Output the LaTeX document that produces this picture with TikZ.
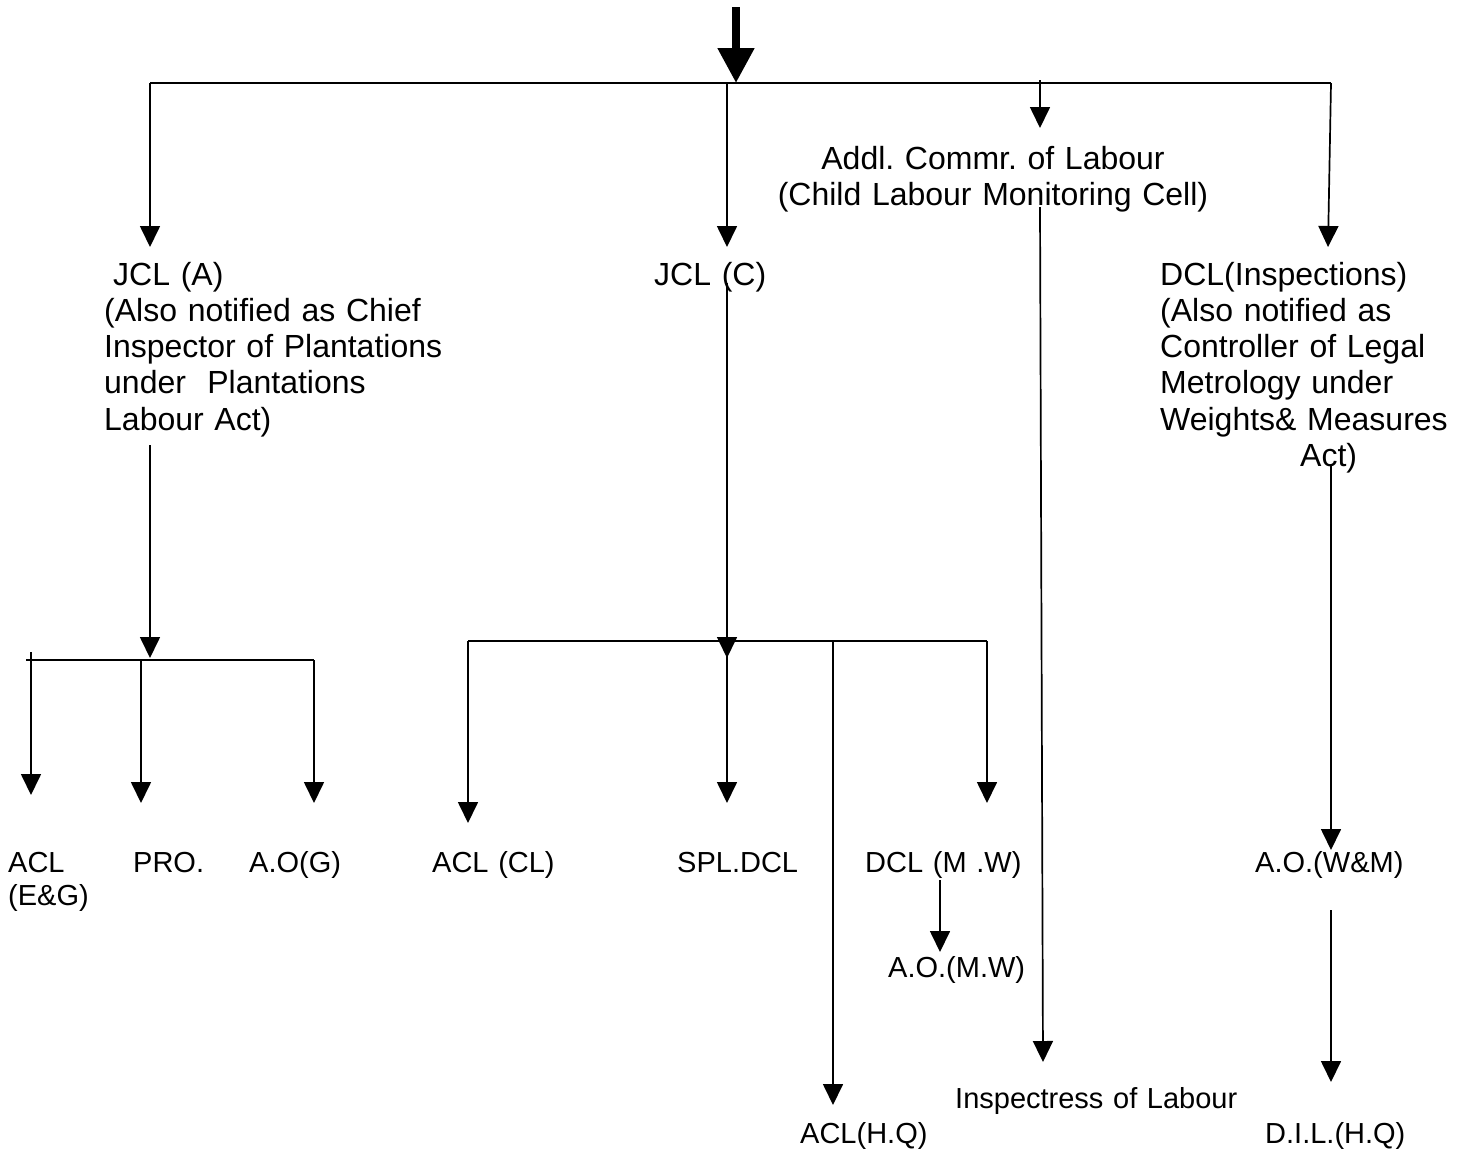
\documentclass[tikz,border=0pt]{standalone}
\usepackage{fontspec}
\setmainfont{Liberation Sans}
\usetikzlibrary{arrows.meta}
\frenchspacing
\begin{document}
\begin{tikzpicture}[x=1pt,y=-1pt,
  conn/.style={line width=1.7pt,-{Triangle[width=20pt,length=21pt]}},
  bus/.style={line width=1.7pt},
  big/.style={font=\fontsize{32}{36.3}\selectfont\frenchspacing, inner sep=0pt, anchor=base west, text width=#1, align=left},
  big/.default=400pt,
  small/.style={font=\fontsize{29}{33}\selectfont\frenchspacing, inner sep=0pt, anchor=base west, text width=#1, align=left},
  small/.default=300pt]
\fill[white] (0,0) rectangle (1465,1149);
\useasboundingbox (0,0) rectangle (1465,1149);

% ---------- text nodes ----------
\node[big=500pt, align=center, anchor=base] (addl) at (993,169)
  {Addl. Commr. of Labour\\(Child Labour Monitoring Cell)};
\node[big] (jcla) at (104,285)
  {\hspace*{9pt}JCL (A)\\(Also notified as Chief\\Inspector of Plantations\\under\ \ Plantations\\Labour Act)};
\node[big=200pt] (jclc) at (654,285) {JCL (C)};
\node[big=320pt] (dcli) at (1160,285)
  {DCL(Inspections)\\(Also notified as\\Controller of Legal\\Metrology under\\Weights\& Measures\\\hspace*{140pt}Act)};

\node[small=100pt] (aclEG) at (8,872) {ACL\\(E\&G)};
\node[small=100pt] (pro) at (133,872) {PRO.};
\node[small=150pt] (aog) at (249,872) {A.O(G)};
\node[small=150pt] (aclcl) at (432,872) {ACL (CL)};
\node[small=150pt] (spl) at (677,872) {SPL.DCL};
\node[small=200pt] (dclmw) at (865,872) {DCL (M .W)};
\node[small=200pt] (aomw) at (888,977) {A.O.(M.W)};
\node[small=200pt] (aowm) at (1255,872) {A.O.(W\&M)};
\node[small=300pt] (insp) at (955,1108) {Inspectress of Labour};
\node[small=200pt] (aclhq) at (800,1143) {ACL(H.Q)};
\node[small=200pt] (dil) at (1265,1143) {D.I.L.(H.Q)};

% ---------- coordinates ----------
\coordinate (src) at (736,7);
\coordinate (srcT) at (736,83);
\coordinate (busL) at (150,83);
\coordinate (busR) at (1331,83);
\coordinate (busC) at (727,83);
\coordinate (addlS) at (1040,80);
\coordinate (addlT) at (1040,128);
\coordinate (jclaT) at (150,247);
\coordinate (jclcT) at (727,247);
\coordinate (dcliT) at (1328,247);

\coordinate (jclaS) at (150,445);
\coordinate (jclaB) at (150,658);
\coordinate (abusL) at (26,660);
\coordinate (abusR) at (314,660);
\coordinate (aclS) at (31,652);
\coordinate (aclT) at (31,795);
\coordinate (proS) at (141,660);
\coordinate (proT) at (141,803);
\coordinate (aogT) at (314,803);

\coordinate (jclcS) at (727,283);
\coordinate (jclcB) at (727,658);
\coordinate (cbusL) at (468,641);
\coordinate (cbusR) at (987,641);
\coordinate (cbusM) at (727,641);
\coordinate (cbusH) at (833,641);
\coordinate (aclclT) at (468,823);
\coordinate (splT) at (727,803);
\coordinate (dclmwT) at (987,803);
\coordinate (aclhqT) at (833,1105);
\coordinate (mwS) at (940,880);
\coordinate (mwT) at (940,952);

\coordinate (inspS) at (1040,207);
\coordinate (inspT) at (1043,1062);

\coordinate (dcliS) at (1331,465);
\coordinate (aowmT) at (1331,850);
\coordinate (aowmS) at (1331,910);
\coordinate (dilT) at (1331,1082);

% ---------- connectors ----------
\draw[line width=8pt,-{Triangle[width=35pt,length=35pt]}] (src) -- (srcT);
\draw[bus] (busL) -- (busR);
\draw[conn] (busL) -- (jclaT);
\draw[conn] (busC) -- (jclcT);
\draw[conn] (addlS) -- (addlT);
\draw[conn] (busR) -- (dcliT);

\draw[conn] (jclaS) -- (jclaB);
\draw[bus] (abusL) -- (abusR);
\draw[conn] (aclS) -- (aclT);
\draw[conn] (proS) -- (proT);
\draw[conn] (abusR) -- (aogT);

\draw[conn] (jclcS) -- (jclcB);
\draw[bus] (cbusL) -- (cbusR);
\draw[conn] (cbusL) -- (aclclT);
\draw[conn] (cbusM) -- (splT);
\draw[conn] (cbusR) -- (dclmwT);
\draw[conn] (cbusH) -- (aclhqT);
\draw[conn] (mwS) -- (mwT);

\draw[conn] (inspS) -- (inspT);

\draw[conn] (dcliS) -- (aowmT);
\draw[conn] (aowmS) -- (dilT);
\end{tikzpicture}
\end{document}
